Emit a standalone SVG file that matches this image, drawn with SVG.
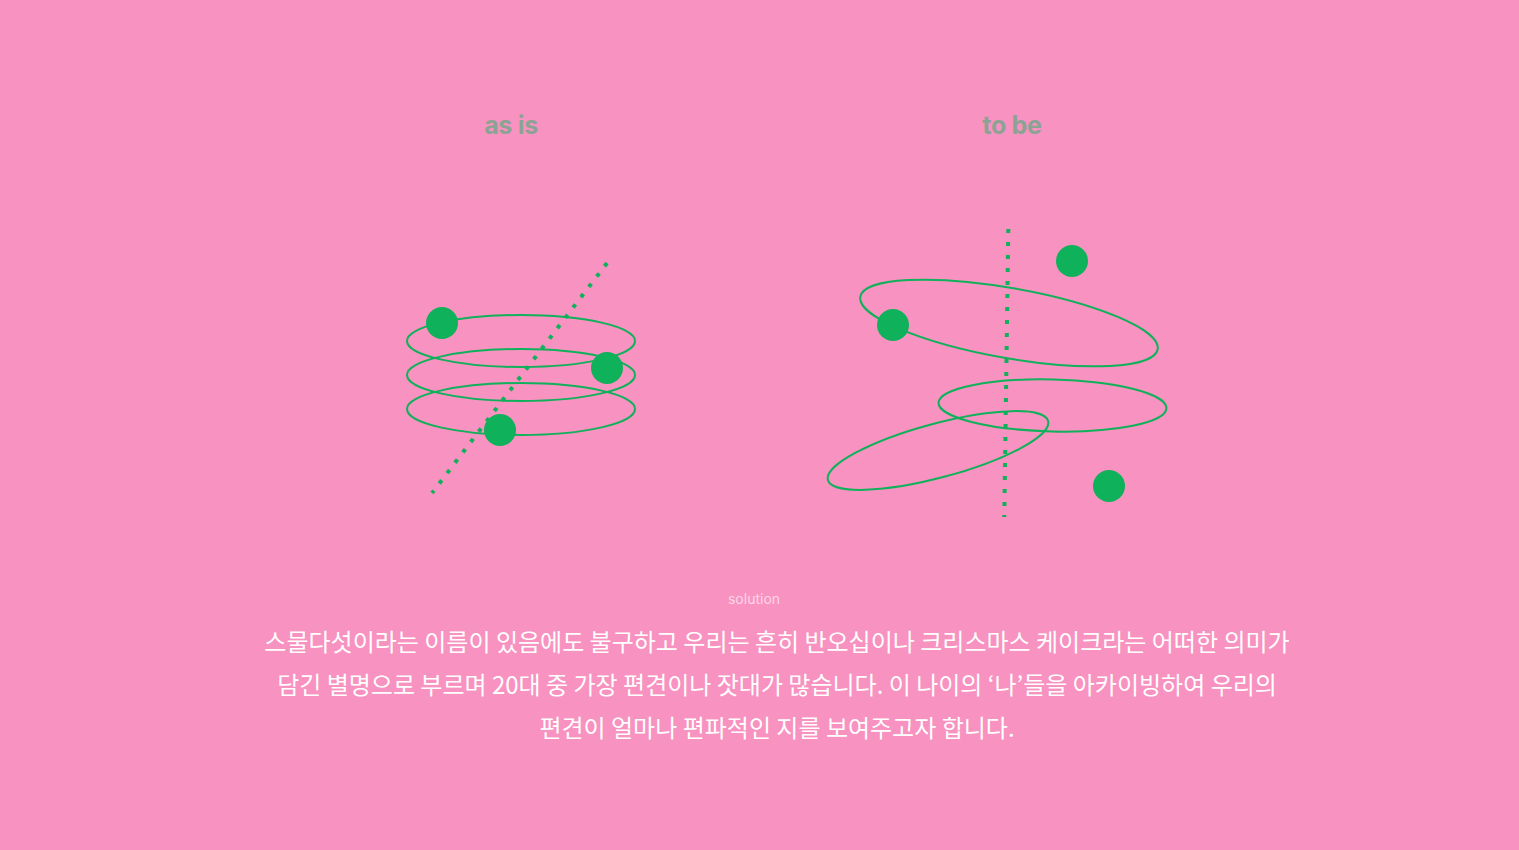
<svg xmlns="http://www.w3.org/2000/svg" width="1519" height="850" viewBox="0 0 1519 850">
<style>
.orbit{fill:none;stroke:#0FB15A;stroke-width:2}
.dot{fill:#0FB15A}
.axis{stroke:#0FB15A;stroke-width:4;stroke-dasharray:4 9;fill:none}
.title{font-family:Inter,"Open Sans",sans-serif;font-weight:700;font-size:25px;fill:#8CA394;text-anchor:middle;letter-spacing:-0.3px}
.small{font-family:Inter,"Open Sans",sans-serif;font-size:14px;fill:#FCD6E8;text-anchor:middle}
.body{font-family:"Noto Sans CJK KR","Noto Sans",sans-serif;font-size:24px;fill:#FFFFFF;text-anchor:middle;font-weight:400}
</style>
<rect width="1519" height="850" fill="#F892C0"/>
<g id="title-asis"><text class="title" x="511" y="134">as is</text></g>
<g id="title-tobe"><text class="title" x="1012" y="134">to be</text></g>
<g id="asis">
<ellipse class="orbit" cx="521" cy="341" rx="114" ry="26"/>
<ellipse class="orbit" cx="521" cy="375" rx="114" ry="26"/>
<ellipse class="orbit" cx="521" cy="409" rx="114" ry="26"/>
<line class="axis" x1="607" y1="263" x2="432" y2="493"/>
<circle class="dot" cx="442" cy="323" r="16"/>
<circle class="dot" cx="607" cy="368" r="16"/>
<circle class="dot" cx="500" cy="430" r="16"/>
</g>
<g id="tobe">
<ellipse class="orbit" cx="1009" cy="323" rx="151" ry="35" transform="rotate(10 1009 323)"/>
<ellipse class="orbit" cx="1052.5" cy="405.5" rx="114" ry="26" transform="rotate(1.4 1052.5 405.5)"/>
<ellipse class="orbit" cx="938" cy="450.5" rx="114" ry="27" transform="rotate(-15 938 450.5)"/>
<line class="axis" x1="1008.3" y1="229" x2="1004.3" y2="517"/>
<circle class="dot" cx="1072" cy="261" r="16"/>
<circle class="dot" cx="893" cy="325" r="16"/>
<circle class="dot" cx="1109" cy="486" r="16"/>
</g>
<g id="solution">
<text class="small" x="754" y="604">solution</text>
<text class="body" x="777" y="651">스물다섯이라는 이름이 있음에도 불구하고 우리는 흔히 반오십이나 크리스마스 케이크라는 어떠한 의미가</text>
<text class="body" x="777" y="694">담긴 별명으로 부르며 20대 중 가장 편견이나 잣대가 많습니다. 이 나이의 ‘나’들을 아카이빙하여 우리의</text>
<text class="body" x="777" y="737">편견이 얼마나 편파적인 지를 보여주고자 합니다.</text>
</g>
</svg>
